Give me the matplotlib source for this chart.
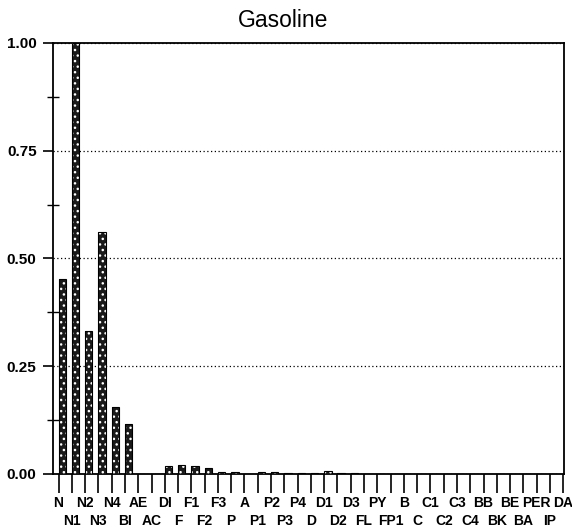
import numpy as np
import matplotlib.pyplot as plt
from matplotlib.ticker import MultipleLocator, FixedLocator

plt.rcParams['font.family'] = ['Liberation Sans', 'DejaVu Sans']

# compound labels along the x axis
labels = ["N", "N1", "N2", "N3", "N4", "BI", "AE", "AC", "DI", "F",
          "F1", "F2", "F3", "P", "A", "P1", "P2", "P3", "P4", "D",
          "D1", "D2", "D3", "FL", "PY", "FP1", "B", "C", "C1", "C2",
          "C3", "C4", "BB", "BK", "BE", "BA", "PER", "IP", "DA"]

# relative amounts (normalised to the largest)
values = [0.452, 1.00, 0.332, 0.561, 0.156, 0.116, 0.0, 0.0, 0.018, 0.020,
          0.018, 0.013, 0.004, 0.004, 0.001, 0.004, 0.005, 0.003, 0.002, 0.002,
          0.006, 0.003, 0.002, 0.001, 0.001, 0.001, 0.001, 0.001, 0.001, 0.001,
          0.001, 0.001, 0.001, 0.001, 0.001, 0.001, 0.001, 0.001, 0.001]

x = np.arange(len(labels))

fig = plt.figure(figsize=(5.72, 5.29), dpi=100)
ax = fig.add_axes([0.093, 0.104, 0.893, 0.815])

# stippled bars: dark fill with white dots, then a black outline on top
ax.bar(x, values, width=0.55, align='edge', color='#1a1a1a',
       edgecolor='white', hatch='...', linewidth=0, zorder=3)
ax.bar(x, values, width=0.55, align='edge', color='none',
       edgecolor='black', linewidth=0.8, zorder=4)

ax.set_xlim(-0.4, 38.05)
ax.set_ylim(0, 1.0)

ax.yaxis.set_major_locator(MultipleLocator(0.25))
ax.yaxis.set_minor_locator(MultipleLocator(0.125))
ax.yaxis.set_major_formatter(lambda v, p: f"{v:.2f}")
ax.tick_params(axis='y', which='major', direction='out', length=7, width=1.2,
               labelsize=11, pad=5)
ax.tick_params(axis='y', which='minor', direction='inout', length=8, width=1.0)
for t in ax.get_yticklabels():
    t.set_fontweight('bold')

# x labels on two rows: even ones on major ticks, odd ones on minor ticks
ax.xaxis.set_major_locator(FixedLocator(x[::2]))
ax.xaxis.set_minor_locator(FixedLocator(x[1::2]))
ax.set_xticklabels(labels[::2], fontsize=10, fontweight='bold')
ax.set_xticklabels(labels[1::2], minor=True, fontsize=10, fontweight='bold')
ax.tick_params(axis='x', which='major', direction='out', length=14, width=1.2, pad=2)
ax.tick_params(axis='x', which='minor', direction='out', length=14, width=1.2, pad=15)

ax.grid(axis='y', which='major', linestyle=(0, (1, 2)), color='black',
        linewidth=0.9, zorder=1)

for s in ax.spines.values():
    s.set_linewidth(1.3)

fig.text(0.495, 0.962, "Gasoline", fontsize=16.5, ha='center', va='center')

fig.savefig("out.png", dpi=100)
